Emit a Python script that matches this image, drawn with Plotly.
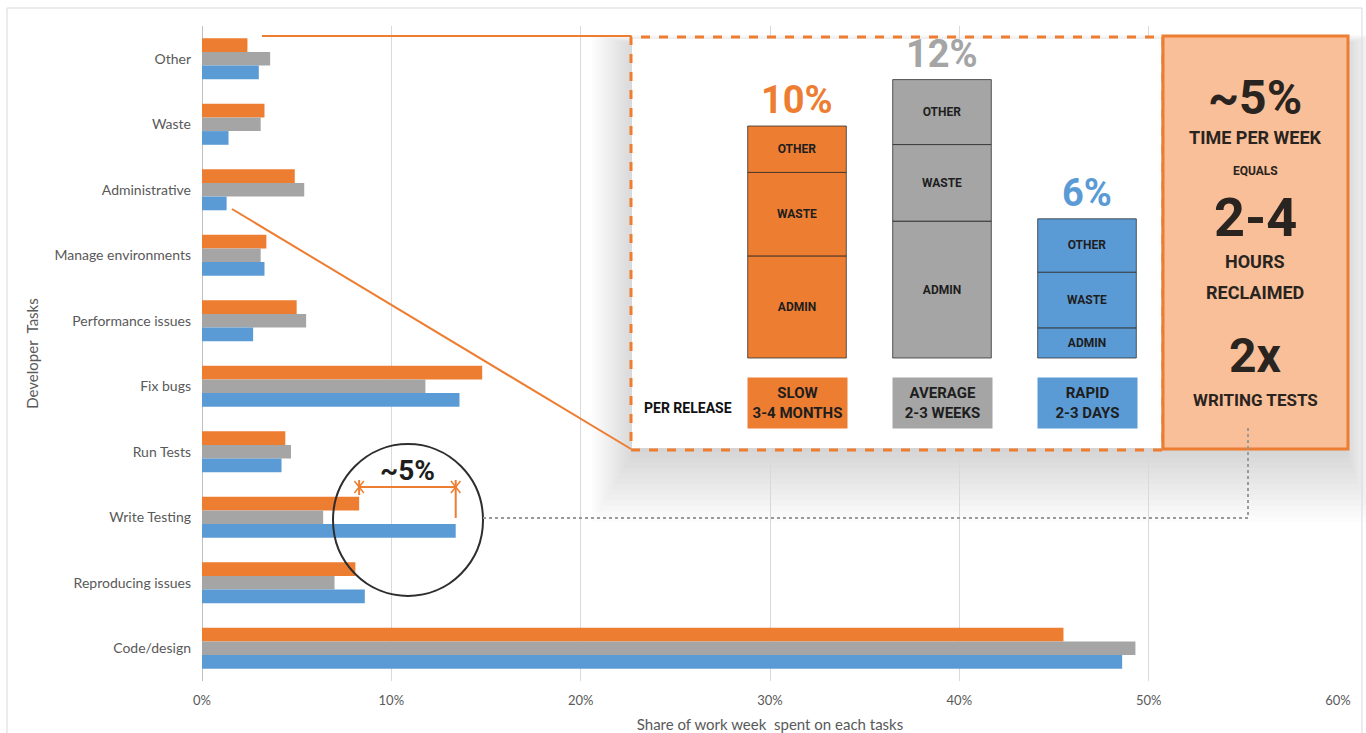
import plotly.graph_objects as go

# ---- data -------------------------------------------------------------
tasks = ["Other", "Waste", "Administrative", "Manage environments",
         "Performance issues", "Fix bugs", "Run Tests", "Write Testing",
         "Reproducing issues", "Code/design"]
slow_share = [2.4, 3.3, 4.9, 3.4, 5.0, 14.8, 4.4, 8.3, 8.1, 45.5]
average_share = [3.6, 3.1, 5.4, 3.1, 5.5, 11.8, 4.7, 6.4, 7.0, 49.3]
rapid_share = [3.0, 1.4, 1.3, 3.3, 2.7, 13.6, 4.2, 13.4, 8.6, 48.6]
x_ticks = [0, 10, 20, 30, 40, 50, 60]
x_tick_labels = ["0%", "10%", "20%", "30%", "40%", "50%", "60%"]

cadences = ["SLOW", "AVERAGE", "RAPID"]
cadence_periods = ["3-4 MONTHS", "2-3 WEEKS", "2-3 DAYS"]
overhead_totals = [10, 12, 6]
overhead_admin = [4.4, 5.9, 1.3]
overhead_waste = [3.6, 3.3, 2.4]
overhead_other = [2.0, 2.8, 2.3]

callout_lines = [("~5%", 48), ("TIME PER WEEK", 18), ("EQUALS", 12), ("2-4", 54),
                 ("HOURS", 18), ("RECLAIMED", 18), ("2x", 48), ("WRITING TESTS", 17)]

# ---- styling ----------------------------------------------------------
ORANGE, GRAY, BLUE = "#ED7D31", "#A5A5A5", "#5B9BD5"
PEACH = "#F9BF98"
TEXT_GRAY = "#595959"
BODY = "Lato, 'Open Sans', sans-serif"
COND = "Roboto, 'Liberation Sans', sans-serif"

W, H = 1366, 733
L, R, T, B = 202, 1338, 26, 681   # plot area in pixels


def px(x):
    return (x - L) / (R - L)


def py(y):
    return (B - y) / (B - T)


fig = go.Figure()

# main grouped bars (slow on top of each group)
for name, vals, col in [("Slow", slow_share, ORANGE),
                        ("Average", average_share, GRAY),
                        ("Rapid", rapid_share, BLUE)]:
    fig.add_trace(go.Bar(y=tasks, x=vals, orientation="h", name=name,
                         marker=dict(color=col, line=dict(width=0)),
                         hoverinfo="skip", xaxis="x", yaxis="y"))

# inset: stacked overhead per release cadence
base_waste = overhead_admin
base_other = [a + w for a, w in zip(overhead_admin, overhead_waste)]
seg_colors = [ORANGE, GRAY, BLUE]
for label, vals, base in [("ADMIN", overhead_admin, [0, 0, 0]),
                          ("WASTE", overhead_waste, base_waste),
                          ("OTHER", overhead_other, base_other)]:
    fig.add_trace(go.Bar(
        x=cadences, y=vals, base=base, offsetgroup="inset", width=0.68,
        marker=dict(color=seg_colors, line=dict(color="rgba(40,40,40,0.75)", width=1)),
        text=[label] * 3, textposition="inside", insidetextanchor="middle",
        textangle=0, constraintext="none",
        textfont=dict(family=COND, size=12, color="#1e1e1e", weight="bold"),
        hoverinfo="skip", xaxis="x2", yaxis="y2"))

shapes = []

# soft drop shadow behind the inset panel
for k in range(14):
    g = 3.6 * k
    shapes.append(dict(type="rect", xref="paper", yref="paper", layer="below",
                       x0=px(634 - g * 0.9), x1=px(1346 + g * 0.6),
                       y0=py(452 + g * 1.5), y1=py(44 - g * 0.2),
                       line=dict(width=0), fillcolor="rgba(0,0,0,0.013)"))

# outer frame
shapes.append(dict(type="rect", xref="paper", yref="paper", layer="below",
                   x0=px(7), x1=px(1362), y0=py(760), y1=py(8),
                   line=dict(color="#d9d9d9", width=1), fillcolor="rgba(0,0,0,0)"))

# connector lines from the chart to the inset
shapes.append(dict(type="line", xref="paper", yref="paper", layer="above",
                   x0=px(262), y0=py(36), x1=px(631), y1=py(36),
                   line=dict(color=ORANGE, width=2)))
shapes.append(dict(type="line", xref="paper", yref="paper", layer="above",
                   x0=px(232), y0=py(209), x1=px(631), y1=py(449),
                   line=dict(color=ORANGE, width=2)))

# inset dashed border and callout box
shapes.append(dict(type="rect", xref="paper", yref="paper", layer="above",
                   x0=px(631), x1=px(1163), y0=py(450), y1=py(37),
                   line=dict(color=ORANGE, width=3, dash="dash")))
shapes.append(dict(type="rect", xref="paper", yref="paper", layer="above",
                   x0=px(1163), x1=px(1348), y0=py(449), y1=py(36),
                   line=dict(color=ORANGE, width=3), fillcolor=PEACH))

# circle around the write-testing gap
shapes.append(dict(type="circle", xref="paper", yref="paper", layer="above",
                   x0=px(333), x1=px(483), y0=py(596), y1=py(444),
                   line=dict(color="#2e2e2e", width=2)))

# dotted link from circle to callout
shapes.append(dict(type="path", xref="paper", yref="paper", layer="above",
                   path=f"M {px(483)},{py(518)} L {px(1248)},{py(518)} L {px(1248)},{py(428)}",
                   line=dict(color="#9a9a9a", width=2, dash="dot")))

# bracket spanning slow vs rapid write-testing share
wt = tasks.index("Write Testing")
xa, xb = slow_share[wt], rapid_share[wt]
shapes.append(dict(type="line", xref="x", yref="paper", layer="above",
                   x0=xa, x1=xb, y0=py(487), y1=py(487),
                   line=dict(color=ORANGE, width=2)))
shapes.append(dict(type="line", xref="x", yref="paper", layer="above",
                   x0=xa, x1=xa, y0=py(480), y1=py(495),
                   line=dict(color=ORANGE, width=2)))
shapes.append(dict(type="line", xref="x", yref="paper", layer="above",
                   x0=xb, x1=xb, y0=py(480), y1=py(518),
                   line=dict(color=ORANGE, width=2)))
d = 0.25
for xe in (xa, xb):
    shapes.append(dict(type="line", xref="x", yref="paper", layer="above",
                       x0=xe - d, x1=xe + d, y0=py(481), y1=py(493),
                       line=dict(color=ORANGE, width=1.5)))
    shapes.append(dict(type="line", xref="x", yref="paper", layer="above",
                       x0=xe - d, x1=xe + d, y0=py(493), y1=py(481),
                       line=dict(color=ORANGE, width=1.5)))

annotations = []

annotations.append(dict(xref="x", yref="paper", x=(xa + xb) / 2, y=py(470),
                        xanchor="center", yanchor="middle",
                        text="~5%", showarrow=False,
                        font=dict(family=COND, size=28, color="#1e1e1e", weight="bold")))

# inset percent labels above each stack
for cad, tot, col in zip(cadences, overhead_totals, seg_colors):
    annotations.append(dict(xref="x2", yref="y2", x=cad, y=tot,
                            xanchor="center", yanchor="bottom",
                            yshift=2, text=f"{tot}%", showarrow=False,
                            font=dict(family=COND, size=38, color=col, weight="bold")))

# cadence boxes
for cad, per, col in zip(cadences, cadence_periods, seg_colors):
    annotations.append(dict(xref="x2", yref="paper", x=cad, y=py(403),
                            xanchor="center", yanchor="middle",
                            text=f"{cad}<br>{per}", showarrow=False,
                            width=99, height=50, bgcolor=col, borderpad=0,
                            font=dict(family=COND, size=15, color="#1e1e1e", weight="bold")))

annotations.append(dict(xref="paper", yref="paper", x=px(688), y=py(408),
                        xanchor="center", yanchor="middle",
                        text="PER RELEASE", showarrow=False,
                        font=dict(family=COND, size=14, color="#111111", weight="bold")))

# callout text
callout_y = [97, 137, 171, 217, 261, 292, 356, 400]
for (txt, size), yy in zip(callout_lines, callout_y):
    annotations.append(dict(xref="paper", yref="paper", x=px(1255), y=py(yy),
                            xanchor="center", yanchor="middle",
                            text=txt, showarrow=False,
                            font=dict(family=COND, size=size, color="#2a2420", weight="bold")))

# inset axis geometry: 145 px per category, 23.2 px per percentage point
cat_px = 145.0
first_center = 797.0
unit_px = 23.2
base_px = 358.0
dom_x0, dom_x1 = 632, 1161
dom_y0, dom_y1 = 448, 39

fig.update_layout(
    width=W, height=H,
    margin=dict(l=L, r=W - R, t=T, b=H - B),
    paper_bgcolor="white", plot_bgcolor="white",
    barmode="group", bargap=0.373, bargroupgap=0,
    showlegend=False,
    font=dict(family=BODY, color=TEXT_GRAY),
    xaxis=dict(range=[0, 60], tickmode="array", tickvals=x_ticks, ticktext=x_tick_labels,
               automargin=False,
               showgrid=True, gridcolor="#d9d9d9", gridwidth=1,
               zeroline=True, zerolinecolor="#bfbfbf", zerolinewidth=1,
               showline=False, ticks="", ticklabelstandoff=10,
               tickfont=dict(family=BODY, size=13, color=TEXT_GRAY),
               title=dict(text="Share of work week  spent on each tasks",
                          font=dict(family=BODY, size=15, color=TEXT_GRAY),
                          standoff=12),
               fixedrange=True),
    yaxis=dict(type="category", autorange="reversed", automargin=False,
               showgrid=False, showline=False, ticks="", ticklabelstandoff=10,
               tickfont=dict(family=BODY, size=14, color=TEXT_GRAY),
               title=dict(text="Developer  Tasks",
                          font=dict(family=BODY, size=15, color=TEXT_GRAY),
                          standoff=12),
               fixedrange=True),
    xaxis2=dict(domain=[px(dom_x0), px(dom_x1)], anchor="y2", type="category",
                categoryorder="array", categoryarray=cadences,
                range=[(dom_x0 - first_center) / cat_px, (dom_x1 - first_center) / cat_px],
                visible=False, showgrid=False, fixedrange=True),
    yaxis2=dict(domain=[py(dom_y0), py(dom_y1)], anchor="x2",
                range=[(base_px - dom_y0) / unit_px, (base_px - dom_y1) / unit_px],
                visible=False, showgrid=False, zeroline=False, fixedrange=True),
    shapes=shapes,
    annotations=annotations,
)

fig.write_html("out.html")
